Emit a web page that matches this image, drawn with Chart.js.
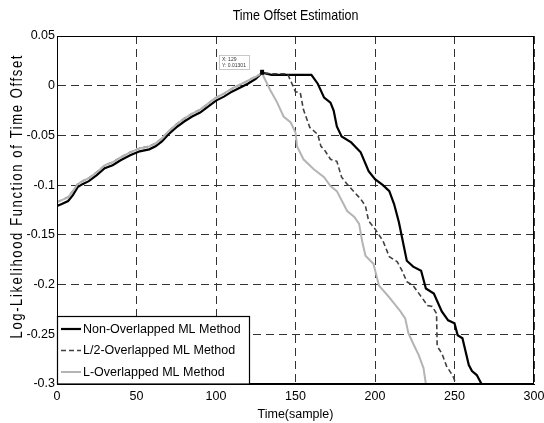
<!DOCTYPE html>
<html>
<head>
<meta charset="utf-8">
<script src="https://cdn.jsdelivr.net/npm/chart.js@4.4.0/dist/chart.umd.min.js"></script>
<style>
  html, body { margin: 0; padding: 0; background: #fff; }
  #wrap { width: 544px; height: 423px; }
</style>
</head>
<body>
<div id="wrap"><canvas id="offsetChart" width="544" height="423"></canvas></div>
<script>
// Rising part (sample index, log-likelihood); black sits a hair under the grey ones
const riseT = [0, 3, 7, 10, 13, 16, 20, 25, 30, 35, 40, 46, 52, 58, 62, 66, 70, 75, 80, 85, 90, 95, 100, 105, 110, 115, 120, 125, 129]
const riseV = [-0.117, -0.115, -0.112, -0.106, -0.099, -0.096, -0.093, -0.087, -0.080, -0.077, -0.072, -0.067, -0.063, -0.061, -0.058, -0.053, -0.046, -0.039, -0.033, -0.028, -0.024, -0.018, -0.012, -0.008, -0.003, 0.001, 0.005, 0.009, 0.013]
const nonRiseV = [-0.121, -0.119, -0.116, -0.110, -0.102, -0.099, -0.096, -0.090, -0.083, -0.080, -0.075, -0.070, -0.066, -0.064, -0.061, -0.056, -0.049, -0.042, -0.036, -0.031, -0.027, -0.021, -0.015, -0.011, -0.006, -0.002, 0.002, 0.007, 0.013]

// Falling parts after the peak
const nonTailT = [135, 145, 160, 164, 168, 172, 174, 176, 179, 185, 191, 196, 200, 205, 209, 212, 215, 220, 224, 229, 232, 237, 242, 246, 250, 252, 255, 259, 261, 264, 267]
const nonTailV = [0.011, 0.011, 0.011, 0.002, -0.012, -0.017, -0.025, -0.041, -0.051, -0.057, -0.067, -0.086, -0.094, -0.100, -0.106, -0.119, -0.137, -0.176, -0.182, -0.186, -0.204, -0.209, -0.227, -0.236, -0.239, -0.251, -0.254, -0.281, -0.287, -0.291, -0.300]

const halfTailT = [135, 145, 150, 153, 155, 159, 164, 166, 168, 172, 176, 179, 183, 191, 194, 196, 200, 205, 209, 214, 217, 220, 224, 229, 233, 236, 238.7, 239.1, 242, 245, 249, 251]
const halfTailV = [0.012, 0.012, -0.006, -0.007, -0.024, -0.042, -0.049, -0.061, -0.064, -0.074, -0.076, -0.092, -0.100, -0.114, -0.121, -0.136, -0.144, -0.156, -0.172, -0.177, -0.186, -0.197, -0.201, -0.212, -0.221, -0.222, -0.229, -0.262, -0.269, -0.282, -0.292, -0.300]

const fullTailT = [130, 134, 138.5, 142.5, 147, 150, 151, 155, 161.5, 168, 172, 176, 182.5, 187, 190, 192, 194, 199, 202.5, 208, 212, 216, 219, 221, 224.5, 227.5, 230.5, 232]
const fullTailV = [0.009, -0.004, -0.017, -0.031, -0.037, -0.047, -0.061, -0.074, -0.084, -0.092, -0.101, -0.106, -0.126, -0.132, -0.139, -0.157, -0.171, -0.179, -0.201, -0.211, -0.219, -0.227, -0.234, -0.249, -0.261, -0.271, -0.284, -0.300]

const seriesNames = ['Non-Overlapped ML Method', 'L/2-Overlapped ML Method', 'L-Overlapped ML Method']
const xTicks = [0, 50, 100, 150, 200, 250, 300]
const yTicks = [0.05, 0, -0.05, -0.1, -0.15, -0.2, -0.25, -0.3]
const peakT = 129
const peakV = 0.01301
const chartTitle = 'Time Offset Estimation'
const yTitle = 'Log-Likelihood Function of Time Offset'

function toPoints(ts, vs) {
  return ts.map((t, i) => ({ x: t, y: vs[i] }))
}

const FONT = "'Liberation Sans', Arial, sans-serif"

const styles = [
  { color: '#000000', width: 2.2, dash: [] },
  { color: '#404040', width: 1.6, dash: [5, 3] },
  { color: '#b4b4b4', width: 2, dash: [] },
]

// Titles, legend box, data tip and full frame drawn on the canvas
const extrasPlugin = {
  id: 'extras',
  afterDraw(chart) {
    const ctx = chart.ctx
    const a = chart.chartArea
    const xs = chart.scales.x
    const ys = chart.scales.y
    ctx.save()

    // frame
    ctx.strokeStyle = '#000'
    ctx.lineWidth = 1
    ctx.setLineDash([])
    ctx.strokeRect(a.left + 0.5, a.top + 0.5, a.right - a.left - 1, a.bottom - a.top - 1)

    // chart title, centred over the plot
    ctx.save()
    ctx.translate((a.left + a.right) / 2, 16)
    ctx.scale(1, 1.2)
    ctx.font = '12.5px ' + FONT
    ctx.fillStyle = '#000'
    ctx.textAlign = 'center'
    ctx.textBaseline = 'middle'
    ctx.fillText(chartTitle, 0, 0)
    ctx.restore()

    // y axis title, tall and spread out like the original
    ctx.save()
    ctx.translate(17, 197)
    ctx.rotate(-Math.PI / 2)
    ctx.scale(1, 1.3)
    ctx.font = '13px ' + FONT
    const w = ctx.measureText(yTitle).width
    const spacing = Math.max(0, (283 - w) / (yTitle.length - 1))
    ctx.letterSpacing = spacing.toFixed(2) + 'px'
    ctx.fillStyle = '#000'
    ctx.textAlign = 'center'
    ctx.textBaseline = 'middle'
    ctx.fillText(yTitle, spacing / 2, 0)
    ctx.restore()

    // data tip
    const px = xs.getPixelForValue(peakT)
    const py = ys.getPixelForValue(peakV)
    ctx.fillStyle = '#000'
    ctx.fillRect(px - 2, py - 3, 4, 5)
    ctx.fillStyle = '#fff'
    ctx.fillRect(219, 55, 31, 15)
    ctx.strokeStyle = '#c8c8c8'
    ctx.strokeRect(219.5, 55.5, 30, 14)
    ctx.fillStyle = '#333'
    ctx.font = '5px ' + FONT
    ctx.textBaseline = 'middle'
    ctx.fillText('X: ' + peakT, 222, 59.5)
    ctx.fillText('Y: ' + peakV, 222, 65.5)

    // legend
    const lx = a.left, ly = 316, lw = 192, lh = a.bottom - 316
    ctx.fillStyle = '#fff'
    ctx.fillRect(lx, ly, lw, lh)
    ctx.strokeStyle = '#000'
    ctx.lineWidth = 1.2
    ctx.strokeRect(lx + 0.5, ly + 0.5, lw, lh - 0.5)
    ctx.font = '12.5px ' + FONT
    ctx.textBaseline = 'middle'
    const rowY = [329, 350.5, 372]
    seriesNames.forEach((name, i) => {
      const s = styles[i]
      ctx.beginPath()
      ctx.strokeStyle = s.color
      ctx.lineWidth = s.width
      ctx.setLineDash(s.dash)
      ctx.moveTo(61, rowY[i])
      ctx.lineTo(81, rowY[i])
      ctx.stroke()
      ctx.setLineDash([])
      ctx.fillStyle = '#000'
      ctx.fillText(name, 83, rowY[i] + 0.5)
    })
    ctx.restore()
  }
}

const series = [[nonTailT, nonRiseV, nonTailV], [halfTailT, riseV, halfTailV], [fullTailT, riseV, fullTailV]]

const datasets = series.map((s, i) => ({
  label: seriesNames[i],
  data: toPoints(riseT.concat(s[0]), s[1].concat(s[2])),
  borderColor: styles[i].color,
  borderWidth: styles[i].width,
  borderDash: styles[i].dash,
  pointRadius: 0,
  showLine: true,
  fill: false,
  tension: 0,
  order: 2 - i,
}))

new Chart(document.getElementById('offsetChart'), {
  type: 'scatter',
  data: { datasets: datasets },
  options: {
    responsive: false,
    animation: false,
    layout: { padding: { top: 36, right: 0, left: 0, bottom: 0 } },
    plugins: {
      legend: { display: false },
      tooltip: { enabled: false },
      title: { display: false },
    },
    scales: {
      x: {
        type: 'linear',
        min: 0,
        max: 300,
        afterBuildTicks: (scale) => { scale.ticks = xTicks.map(v => ({ value: v })) },
        afterFit: (scale) => { scale.height = 39; scale.paddingRight = 10 },
        ticks: { color: '#000', font: { family: FONT, size: 12.5 }, padding: 5 },
        grid: { color: '#333', lineWidth: 1, drawTicks: false },
        border: { color: '#000', dash: [8, 5] },
        title: {
          display: true,
          text: 'Time(sample)',
          color: '#000',
          font: { family: FONT, size: 12.5 },
          padding: { top: 0, bottom: 1 },
        },
      },
      y: {
        type: 'linear',
        min: -0.3,
        max: 0.05,
        afterBuildTicks: (scale) => { scale.ticks = yTicks.map(v => ({ value: v })) },
        afterFit: (scale) => { scale.width = 57 },
        ticks: {
          color: '#000',
          font: { family: FONT, size: 12.5 },
          padding: 2,
          callback: (v) => String(Number(v.toFixed(2))),
        },
        grid: { color: '#333', lineWidth: 1, drawTicks: false },
        border: { color: '#000', dash: [8, 5] },
        title: { display: false },
      },
    },
  },
  plugins: [extrasPlugin],
})
</script>
</body>
</html>
